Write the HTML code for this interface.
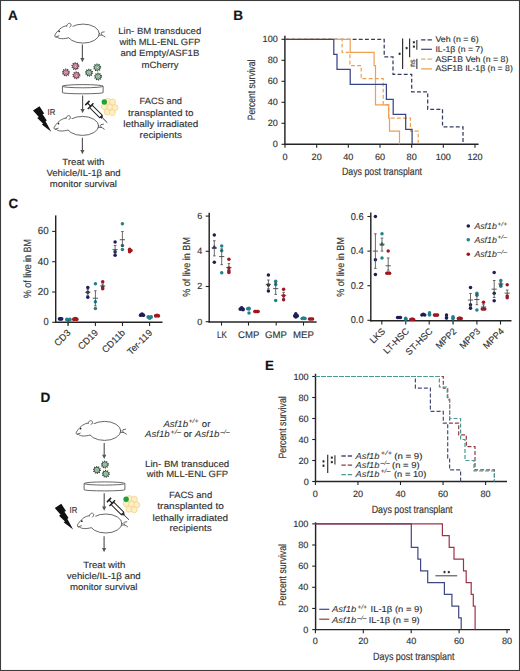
<!DOCTYPE html>
<html><head><meta charset="utf-8"><title>Figure</title>
<style>
html,body{margin:0;padding:0;background:#fff;}
body{width:520px;height:671px;overflow:hidden;}
svg{display:block;}
text{stroke:#333;stroke-width:0.15px;}
text[font-style="italic"]{stroke-width:0.06px;}

</style></head><body>
<svg width="520" height="671" viewBox="0 0 520 671" font-family="Liberation Sans, sans-serif" fill="#333" text-rendering="geometricPrecision">
<rect x="0" y="0" width="520" height="671" fill="#fff"/>
<text x="8.00" y="19.60" font-size="13.6" fill="#111" font-weight="bold">A</text>
<g transform="translate(83.20 33.60) scale(1.0)" fill="none" stroke="#4d4d4d" stroke-width="0.85" stroke-linecap="round" stroke-linejoin="round">
<ellipse cx="0" cy="0" rx="16.2" ry="9.5" fill="#fff"/>
<path d="M-12.6,-7.9 C-17,-8.8 -21.6,-6.6 -24.6,-3.4 C-26.8,-1.1 -28.7,1.2 -28.4,2.5 C-28.1,3.6 -26.9,3.8 -26.0,3.5 C-24.5,5.4 -19.5,5.6 -14.6,4.2 L-8,2 L-8,-6 Z" fill="#fff" stroke="none"/>
<path d="M-12.6,-7.9 C-17,-8.8 -21.6,-6.6 -24.6,-3.4 C-26.8,-1.1 -28.7,1.2 -28.4,2.5 C-28.1,3.6 -26.9,3.8 -26.0,3.5 C-24.5,5.4 -19.5,5.6 -14.6,4.2"/>
<path d="M-27.2,3.2 L-24.4,2.3"/>
<path d="M-16.5,-7.4 C-16,-10.4 -13.5,-11 -12.4,-9.6 C-11.7,-8.6 -12.3,-7.4 -13.4,-6.4" fill="#fff"/>
<circle cx="-24" cy="-2.3" r="0.85" fill="#222" stroke="none"/>
<path d="M16.1,1.6 L18.7,1.4 C18.1,0.6 17.9,-0.8 18.5,-1.3 L21,-1.7 M18.7,1.4 C19.8,1.8 20.8,2.6 21.8,3.3"/>
</g>
<line x1="82.4" y1="44.6" x2="82.4" y2="58.7" stroke="#555" stroke-width="1.15"/>
<path d="M80.30000000000001,58.0 L84.5,58.0 L82.4,62.2 Z" fill="#555"/>
<circle cx="75.4" cy="66.2" r="3.35" fill="none" stroke="#4a2a34" stroke-width="1.3" stroke-dasharray="0.95 1.15"/>
<circle cx="75.4" cy="66.2" r="2.75" fill="#e596b0" stroke="#4a2a34" stroke-width="0.8"/>
<circle cx="75.5" cy="66.3" r="1.0" fill="#f6d3df" stroke="#4a2a34" stroke-width="0.35"/>
<circle cx="65.9" cy="72.5" r="3.35" fill="none" stroke="#4a2a34" stroke-width="1.3" stroke-dasharray="0.95 1.15"/>
<circle cx="65.9" cy="72.5" r="2.75" fill="#e596b0" stroke="#4a2a34" stroke-width="0.8"/>
<circle cx="66.0" cy="72.6" r="1.0" fill="#f6d3df" stroke="#4a2a34" stroke-width="0.35"/>
<circle cx="76.4" cy="75.3" r="3.35" fill="none" stroke="#4a2a34" stroke-width="1.3" stroke-dasharray="0.95 1.15"/>
<circle cx="76.4" cy="75.3" r="2.75" fill="#e596b0" stroke="#4a2a34" stroke-width="0.8"/>
<circle cx="76.5" cy="75.39999999999999" r="1.0" fill="#f6d3df" stroke="#4a2a34" stroke-width="0.35"/>
<circle cx="97.2" cy="67.5" r="3.35" fill="none" stroke="#2a3a2f" stroke-width="1.3" stroke-dasharray="0.95 1.15"/>
<circle cx="97.2" cy="67.5" r="2.75" fill="#9fd1ad" stroke="#2a3a2f" stroke-width="0.8"/>
<circle cx="97.3" cy="67.6" r="1.0" fill="#dff0e4" stroke="#2a3a2f" stroke-width="0.35"/>
<circle cx="89.0" cy="72.7" r="3.35" fill="none" stroke="#2a3a2f" stroke-width="1.3" stroke-dasharray="0.95 1.15"/>
<circle cx="89.0" cy="72.7" r="2.75" fill="#9fd1ad" stroke="#2a3a2f" stroke-width="0.8"/>
<circle cx="89.1" cy="72.8" r="1.0" fill="#dff0e4" stroke="#2a3a2f" stroke-width="0.35"/>
<circle cx="98.1" cy="76.6" r="3.35" fill="none" stroke="#2a3a2f" stroke-width="1.3" stroke-dasharray="0.95 1.15"/>
<circle cx="98.1" cy="76.6" r="2.75" fill="#9fd1ad" stroke="#2a3a2f" stroke-width="0.8"/>
<circle cx="98.19999999999999" cy="76.69999999999999" r="1.0" fill="#dff0e4" stroke="#2a3a2f" stroke-width="0.35"/>
<path d="M62.4,86.19999999999999 V92.6 A20.349999999999998,1.2 0 0 0 103.1,92.6 V86.19999999999999" fill="#fff" stroke="#4d4d4d" stroke-width="0.85"/>
<ellipse cx="82.75" cy="86.19999999999999" rx="20.349999999999998" ry="1.6" fill="#fff" stroke="#4d4d4d" stroke-width="0.85"/>
<line x1="82.6" y1="95.5" x2="82.6" y2="109.7" stroke="#555" stroke-width="1.15"/>
<path d="M80.5,109.0 L84.69999999999999,109.0 L82.6,113.2 Z" fill="#555"/>
<polygon points="39.50,106.20 44.20,113.50 42.60,114.20 46.80,120.40 45.50,121.20 51.30,131.80 41.80,124.60 43.20,123.80 37.20,118.10 38.80,117.10 33.00,110.40" fill="#111"/>
<text x="47.60" y="115.00" font-size="8.6" textLength="7.70" lengthAdjust="spacingAndGlyphs">IR</text>
<g transform="translate(87.40 103.00) rotate(44.7)" stroke="#222" fill="none" stroke-linecap="butt">
<line x1="0" y1="-3" x2="0" y2="3" stroke-width="1.5"/>
<line x1="0" y1="0" x2="4.5" y2="0" stroke-width="1.2"/>
<line x1="4.5" y1="-4" x2="4.5" y2="4" stroke-width="1.4"/>
<rect x="5" y="-1.8" width="14.2" height="3.6" fill="#fff" stroke-width="0.95"/>
<rect x="19" y="-1" width="2" height="2" fill="#222" stroke-width="0.5"/>
<line x1="21" y1="0" x2="28" y2="0" stroke-width="0.9"/>
</g>
<circle cx="107.60" cy="101.40" r="3.0" fill="#fdefc4" stroke="#f3d088" stroke-width="0.75"/>
<circle cx="112.60" cy="102.00" r="3.0" fill="#fdefc4" stroke="#f3d088" stroke-width="0.75"/>
<circle cx="104.40" cy="106.60" r="3.0" fill="#fdefc4" stroke="#f3d088" stroke-width="0.75"/>
<circle cx="109.80" cy="107.00" r="3.0" fill="#fdefc4" stroke="#f3d088" stroke-width="0.75"/>
<circle cx="115.00" cy="107.60" r="3.0" fill="#fdefc4" stroke="#f3d088" stroke-width="0.75"/>
<circle cx="107.20" cy="112.00" r="3.0" fill="#fdefc4" stroke="#f3d088" stroke-width="0.75"/>
<circle cx="112.40" cy="112.60" r="3.0" fill="#fdefc4" stroke="#f3d088" stroke-width="0.75"/>
<circle cx="104.30" cy="102.00" r="2.7" fill="#1aa33a"/>
<g transform="translate(82.50 125.90) scale(1.0)" fill="none" stroke="#4d4d4d" stroke-width="0.85" stroke-linecap="round" stroke-linejoin="round">
<ellipse cx="0" cy="0" rx="16.2" ry="9.5" fill="#fff"/>
<path d="M-12.6,-7.9 C-17,-8.8 -21.6,-6.6 -24.6,-3.4 C-26.8,-1.1 -28.7,1.2 -28.4,2.5 C-28.1,3.6 -26.9,3.8 -26.0,3.5 C-24.5,5.4 -19.5,5.6 -14.6,4.2 L-8,2 L-8,-6 Z" fill="#fff" stroke="none"/>
<path d="M-12.6,-7.9 C-17,-8.8 -21.6,-6.6 -24.6,-3.4 C-26.8,-1.1 -28.7,1.2 -28.4,2.5 C-28.1,3.6 -26.9,3.8 -26.0,3.5 C-24.5,5.4 -19.5,5.6 -14.6,4.2"/>
<path d="M-27.2,3.2 L-24.4,2.3"/>
<path d="M-16.5,-7.4 C-16,-10.4 -13.5,-11 -12.4,-9.6 C-11.7,-8.6 -12.3,-7.4 -13.4,-6.4" fill="#fff"/>
<circle cx="-24" cy="-2.3" r="0.85" fill="#222" stroke="none"/>
<path d="M16.1,1.6 L18.7,1.4 C18.1,0.6 17.9,-0.8 18.5,-1.3 L21,-1.7 M18.7,1.4 C19.8,1.8 20.8,2.6 21.8,3.3"/>
</g>
<line x1="82.4" y1="137.8" x2="82.4" y2="150.7" stroke="#555" stroke-width="1.15"/>
<path d="M80.30000000000001,150.0 L84.5,150.0 L82.4,154.2 Z" fill="#555"/>
<text x="118.30" y="33.60" font-size="9.15" textLength="82.90" lengthAdjust="spacingAndGlyphs">Lin- BM transduced</text>
<text x="119.40" y="44.60" font-size="9.15" textLength="80.80" lengthAdjust="spacingAndGlyphs">with MLL-ENL GFP</text>
<text x="120.40" y="56.30" font-size="9.15" textLength="78.90" lengthAdjust="spacingAndGlyphs">and Empty/ASF1B</text>
<text x="141.50" y="67.60" font-size="9.15" textLength="37.00" lengthAdjust="spacingAndGlyphs">mCherry</text>
<text x="139.60" y="103.80" font-size="9.15" textLength="42.40" lengthAdjust="spacingAndGlyphs">FACS and</text>
<text x="128.10" y="115.60" font-size="9.15" textLength="65.40" lengthAdjust="spacingAndGlyphs">transplanted to</text>
<text x="123.30" y="126.90" font-size="9.15" textLength="75.00" lengthAdjust="spacingAndGlyphs">lethally irradiated</text>
<text x="139.60" y="137.90" font-size="9.15" textLength="42.40" lengthAdjust="spacingAndGlyphs">recipients</text>
<text x="62.30" y="164.60" font-size="9.15" textLength="42.20" lengthAdjust="spacingAndGlyphs">Treat with</text>
<text x="46.40" y="175.80" font-size="9.15" textLength="74.30" lengthAdjust="spacingAndGlyphs">Vehicle/IL-1β and</text>
<text x="49.80" y="187.10" font-size="9.15" textLength="67.10" lengthAdjust="spacingAndGlyphs">monitor survival</text>
<text x="233.20" y="19.80" font-size="13.6" fill="#111" font-weight="bold">B</text>
<line x1="284.90" y1="35.80" x2="284.90" y2="145.00" stroke="#242424" stroke-width="1.45"/>
<line x1="284.40" y1="144.30" x2="478.60" y2="144.30" stroke="#242424" stroke-width="1.45"/>
<line x1="281.50" y1="144.30" x2="285.00" y2="144.30" stroke="#242424" stroke-width="1.1"/>
<text x="277.80" y="147.40" font-size="9.1" text-anchor="end">0</text>
<line x1="281.50" y1="123.30" x2="285.00" y2="123.30" stroke="#242424" stroke-width="1.1"/>
<text x="277.80" y="126.40" font-size="9.1" text-anchor="end">20</text>
<line x1="281.50" y1="102.30" x2="285.00" y2="102.30" stroke="#242424" stroke-width="1.1"/>
<text x="277.80" y="105.40" font-size="9.1" text-anchor="end">40</text>
<line x1="281.50" y1="81.30" x2="285.00" y2="81.30" stroke="#242424" stroke-width="1.1"/>
<text x="277.80" y="84.40" font-size="9.1" text-anchor="end">60</text>
<line x1="281.50" y1="60.30" x2="285.00" y2="60.30" stroke="#242424" stroke-width="1.1"/>
<text x="277.80" y="63.40" font-size="9.1" text-anchor="end">80</text>
<line x1="281.50" y1="39.30" x2="285.00" y2="39.30" stroke="#242424" stroke-width="1.1"/>
<text x="277.80" y="42.40" font-size="9.1" text-anchor="end">100</text>
<line x1="285.00" y1="144.30" x2="285.00" y2="147.80" stroke="#242424" stroke-width="1.1"/>
<text x="285.00" y="159.60" font-size="9.1" text-anchor="middle">0</text>
<line x1="316.67" y1="144.30" x2="316.67" y2="147.80" stroke="#242424" stroke-width="1.1"/>
<text x="316.67" y="159.60" font-size="9.1" text-anchor="middle">20</text>
<line x1="348.33" y1="144.30" x2="348.33" y2="147.80" stroke="#242424" stroke-width="1.1"/>
<text x="348.33" y="159.60" font-size="9.1" text-anchor="middle">40</text>
<line x1="380.00" y1="144.30" x2="380.00" y2="147.80" stroke="#242424" stroke-width="1.1"/>
<text x="380.00" y="159.60" font-size="9.1" text-anchor="middle">60</text>
<line x1="411.66" y1="144.30" x2="411.66" y2="147.80" stroke="#242424" stroke-width="1.1"/>
<text x="411.66" y="159.60" font-size="9.1" text-anchor="middle">80</text>
<line x1="443.33" y1="144.30" x2="443.33" y2="147.80" stroke="#242424" stroke-width="1.1"/>
<text x="443.33" y="159.60" font-size="9.1" text-anchor="middle">100</text>
<line x1="475.00" y1="144.30" x2="475.00" y2="147.80" stroke="#242424" stroke-width="1.1"/>
<text x="475.00" y="159.60" font-size="9.1" text-anchor="middle">120</text>
<text x="342.00" y="175.10" font-size="10.6" textLength="80.00" lengthAdjust="spacingAndGlyphs">Days post transplant</text>
<text x="254.90" y="89.90" font-size="10.6" text-anchor="middle" textLength="60.80" lengthAdjust="spacingAndGlyphs" transform="rotate(-90 254.90 89.90)">Percent survival</text>
<path d="M285.00,39.30 H384.20 V56.84 H393.00 V74.27 H411.70 V91.80 H427.70 V109.34 H442.50 V126.77 H463.00 V144.30" fill="none" stroke="#363c5e" stroke-width="1.25" stroke-dasharray="3.9 2.25"/>
<path d="M285.00,39.30 H342.10 V52.43 H349.90 V65.55 H361.20 V78.68 H383.20 V104.93 H388.70 V118.05 H410.40 V131.18 H418.20 V144.30" fill="none" stroke="#eda050" stroke-width="1.2" stroke-dasharray="3.9 2.25"/>
<path d="M285.00,39.30 H350.20 V52.43 H374.10 V65.55 H375.50 V104.93 H388.70 V118.05 H389.50 V131.18 H399.50 V144.30" fill="none" stroke="#eda050" stroke-width="1.2"/>
<path d="M285.00,39.30 H333.80 V54.31 H337.00 V69.33 H350.20 V84.34 H386.40 V99.26 H393.20 V114.27 H405.70 V129.29 H412.10 V144.30" fill="none" stroke="#3b4585" stroke-width="1.25"/>
<line x1="421.10" y1="39.80" x2="431.90" y2="39.80" stroke="#363c5e" stroke-width="1.3" stroke-dasharray="4.4 2"/>
<line x1="421.10" y1="49.30" x2="431.90" y2="49.30" stroke="#3b4585" stroke-width="1.2"/>
<line x1="421.10" y1="59.10" x2="431.90" y2="59.10" stroke="#dcae62" stroke-width="1.3" stroke-dasharray="4.4 2"/>
<line x1="421.10" y1="68.90" x2="431.90" y2="68.90" stroke="#eda050" stroke-width="1.3"/>
<text x="435.40" y="42.20" font-size="8.3" textLength="43.30" lengthAdjust="spacingAndGlyphs">Veh (n = 6)</text>
<text x="435.40" y="51.70" font-size="8.3" textLength="47.70" lengthAdjust="spacingAndGlyphs">IL-1β (n = 7)</text>
<text x="435.40" y="61.50" font-size="8.3" textLength="72.90" lengthAdjust="spacingAndGlyphs">ASF1B Veh (n = 8)</text>
<text x="435.40" y="71.30" font-size="8.3" textLength="77.40" lengthAdjust="spacingAndGlyphs">ASF1B IL-1β (n = 8)</text>
<line x1="402.60" y1="38.50" x2="402.60" y2="69.00" stroke="#333" stroke-width="1.2"/>
<line x1="409.60" y1="38.50" x2="409.60" y2="57.30" stroke="#333" stroke-width="1.2"/>
<line x1="416.80" y1="40.00" x2="416.80" y2="49.70" stroke="#666" stroke-width="1.5"/>
<line x1="416.80" y1="58.80" x2="416.80" y2="69.00" stroke="#666" stroke-width="1.5"/>
<path d="M399.60,52.55 L399.60,55.05 M400.68,53.17 L398.52,54.42 M400.68,54.42 L398.52,53.17 " stroke="#222" stroke-width="0.75" fill="none"/>
<circle cx="399.60" cy="53.80" r="0.69" fill="#222"/>
<path d="M406.60,46.85 L406.60,49.35 M407.68,47.48 L405.52,48.73 M407.68,48.73 L405.52,47.48 " stroke="#222" stroke-width="0.75" fill="none"/>
<circle cx="406.60" cy="48.10" r="0.69" fill="#222"/>
<path d="M413.90,41.05 L413.90,43.55 M414.98,41.67 L412.82,42.92 M414.98,42.92 L412.82,41.67 " stroke="#222" stroke-width="0.75" fill="none"/>
<circle cx="413.90" cy="42.30" r="0.69" fill="#222"/>
<path d="M413.90,45.35 L413.90,47.85 M414.98,45.98 L412.82,47.23 M414.98,47.23 L412.82,45.98 " stroke="#222" stroke-width="0.75" fill="none"/>
<circle cx="413.90" cy="46.60" r="0.69" fill="#222"/>
<text x="414.60" y="63.20" font-size="8.0" text-anchor="middle" textLength="7.60" lengthAdjust="spacingAndGlyphs" transform="rotate(-90 414.60 63.20)">ns</text>
<text x="8.60" y="208.00" font-size="13.4" fill="#111" font-weight="bold">C</text>
<line x1="55.70" y1="215.40" x2="55.70" y2="323.00" stroke="#242424" stroke-width="1.45"/>
<line x1="55.00" y1="322.30" x2="162.50" y2="322.30" stroke="#242424" stroke-width="1.45"/>
<line x1="52.20" y1="322.30" x2="55.70" y2="322.30" stroke="#242424" stroke-width="1.1"/>
<text x="48.60" y="325.10" font-size="10.2" text-anchor="end" textLength="5.20" lengthAdjust="spacingAndGlyphs">0</text>
<line x1="52.20" y1="292.00" x2="55.70" y2="292.00" stroke="#242424" stroke-width="1.1"/>
<text x="48.60" y="294.80" font-size="10.2" text-anchor="end" textLength="10.90" lengthAdjust="spacingAndGlyphs">20</text>
<line x1="52.20" y1="261.70" x2="55.70" y2="261.70" stroke="#242424" stroke-width="1.1"/>
<text x="48.60" y="264.50" font-size="10.2" text-anchor="end" textLength="10.90" lengthAdjust="spacingAndGlyphs">40</text>
<line x1="52.20" y1="231.40" x2="55.70" y2="231.40" stroke="#242424" stroke-width="1.1"/>
<text x="48.60" y="234.20" font-size="10.2" text-anchor="end" textLength="10.90" lengthAdjust="spacingAndGlyphs">60</text>
<line x1="68.00" y1="322.30" x2="68.00" y2="326.00" stroke="#242424" stroke-width="1.1"/>
<text x="71.30" y="333.40" font-size="9.4" text-anchor="end" transform="rotate(-45 71.30 333.40)">CD3</text>
<line x1="95.40" y1="322.30" x2="95.40" y2="326.00" stroke="#242424" stroke-width="1.1"/>
<text x="98.70" y="333.40" font-size="9.4" text-anchor="end" transform="rotate(-45 98.70 333.40)">CD19</text>
<line x1="122.50" y1="322.30" x2="122.50" y2="326.00" stroke="#242424" stroke-width="1.1"/>
<text x="125.80" y="333.40" font-size="9.4" text-anchor="end" transform="rotate(-45 125.80 333.40)">CD11b</text>
<line x1="149.60" y1="322.30" x2="149.60" y2="326.00" stroke="#242424" stroke-width="1.1"/>
<text x="152.90" y="333.40" font-size="9.4" text-anchor="end" transform="rotate(-45 152.90 333.40)">Ter-119</text>
<text x="31.40" y="268.60" font-size="10.6" text-anchor="middle" textLength="59.00" lengthAdjust="spacingAndGlyphs" transform="rotate(-90 31.40 268.60)">% of live in BM</text>
<circle cx="59.60" cy="318.82" r="1.9" fill="#1d1d58"/>
<circle cx="60.60" cy="318.82" r="1.9" fill="#1d1d58"/>
<circle cx="61.60" cy="318.82" r="1.9" fill="#1d1d58"/>
<circle cx="66.90" cy="319.42" r="1.9" fill="#20828a"/>
<circle cx="68.40" cy="320.22" r="1.9" fill="#20828a"/>
<circle cx="69.90" cy="319.42" r="1.9" fill="#20828a"/>
<circle cx="73.90" cy="319.27" r="1.9" fill="#a01722"/>
<circle cx="75.30" cy="318.67" r="1.9" fill="#a01722"/>
<circle cx="76.70" cy="319.27" r="1.9" fill="#a01722"/>
<line x1="68.30" y1="320.03" x2="68.30" y2="325.33" stroke="#444" stroke-width="0.8"/>
<circle cx="87.80" cy="287.46" r="1.75" fill="#1d1d58"/>
<circle cx="87.80" cy="292.30" r="1.75" fill="#1d1d58"/>
<circle cx="87.80" cy="297.15" r="1.75" fill="#1d1d58"/>
<line x1="87.80" y1="289.27" x2="87.80" y2="295.33" stroke="#444" stroke-width="0.8"/>
<line x1="85.20" y1="292.30" x2="90.40" y2="292.30" stroke="#444" stroke-width="0.9"/>
<line x1="86.50" y1="289.27" x2="89.10" y2="289.27" stroke="#444" stroke-width="0.8"/>
<line x1="86.50" y1="295.33" x2="89.10" y2="295.33" stroke="#444" stroke-width="0.8"/>
<circle cx="95.40" cy="283.82" r="1.75" fill="#20828a"/>
<circle cx="95.40" cy="301.85" r="1.75" fill="#20828a"/>
<circle cx="95.40" cy="308.51" r="1.75" fill="#20828a"/>
<line x1="95.40" y1="290.79" x2="95.40" y2="305.79" stroke="#444" stroke-width="0.8"/>
<line x1="92.80" y1="298.21" x2="98.00" y2="298.21" stroke="#444" stroke-width="0.9"/>
<line x1="94.10" y1="290.79" x2="96.70" y2="290.79" stroke="#444" stroke-width="0.8"/>
<line x1="94.10" y1="305.79" x2="96.70" y2="305.79" stroke="#444" stroke-width="0.8"/>
<circle cx="102.70" cy="281.85" r="1.75" fill="#a01722"/>
<circle cx="102.70" cy="287.00" r="1.75" fill="#a01722"/>
<circle cx="102.70" cy="288.67" r="1.75" fill="#a01722"/>
<line x1="102.70" y1="283.97" x2="102.70" y2="287.91" stroke="#444" stroke-width="0.8"/>
<line x1="100.10" y1="285.94" x2="105.30" y2="285.94" stroke="#444" stroke-width="0.9"/>
<line x1="101.40" y1="283.97" x2="104.00" y2="283.97" stroke="#444" stroke-width="0.8"/>
<line x1="101.40" y1="287.91" x2="104.00" y2="287.91" stroke="#444" stroke-width="0.8"/>
<circle cx="115.10" cy="242.00" r="1.75" fill="#1d1d58"/>
<circle cx="115.10" cy="251.70" r="1.75" fill="#1d1d58"/>
<circle cx="115.10" cy="255.34" r="1.75" fill="#1d1d58"/>
<line x1="115.10" y1="245.49" x2="115.10" y2="253.82" stroke="#444" stroke-width="0.8"/>
<line x1="112.50" y1="249.58" x2="117.70" y2="249.58" stroke="#444" stroke-width="0.9"/>
<line x1="113.80" y1="245.49" x2="116.40" y2="245.49" stroke="#444" stroke-width="0.8"/>
<line x1="113.80" y1="253.82" x2="116.40" y2="253.82" stroke="#444" stroke-width="0.8"/>
<circle cx="122.40" cy="223.83" r="1.75" fill="#20828a"/>
<circle cx="122.40" cy="245.49" r="1.75" fill="#20828a"/>
<circle cx="122.40" cy="249.58" r="1.75" fill="#20828a"/>
<line x1="122.40" y1="231.55" x2="122.40" y2="246.25" stroke="#444" stroke-width="0.8"/>
<line x1="119.80" y1="239.73" x2="125.00" y2="239.73" stroke="#444" stroke-width="0.9"/>
<line x1="121.10" y1="231.55" x2="123.70" y2="231.55" stroke="#444" stroke-width="0.8"/>
<line x1="121.10" y1="246.25" x2="123.70" y2="246.25" stroke="#444" stroke-width="0.8"/>
<circle cx="129.60" cy="249.13" r="1.75" fill="#a01722"/>
<circle cx="129.60" cy="250.64" r="1.75" fill="#a01722"/>
<circle cx="129.60" cy="251.70" r="1.75" fill="#a01722"/>
<circle cx="131.00" cy="250.49" r="1.75" fill="#a01722"/>
<circle cx="140.70" cy="315.18" r="1.9" fill="#1d1d58"/>
<circle cx="142.00" cy="314.18" r="1.9" fill="#1d1d58"/>
<circle cx="143.30" cy="315.18" r="1.9" fill="#1d1d58"/>
<circle cx="148.30" cy="317.00" r="1.9" fill="#20828a"/>
<circle cx="149.70" cy="318.00" r="1.9" fill="#20828a"/>
<circle cx="151.10" cy="317.00" r="1.9" fill="#20828a"/>
<circle cx="155.70" cy="315.79" r="1.9" fill="#a01722"/>
<circle cx="157.00" cy="315.29" r="1.9" fill="#a01722"/>
<circle cx="158.30" cy="315.79" r="1.9" fill="#a01722"/>
<line x1="209.20" y1="212.70" x2="209.20" y2="322.60" stroke="#242424" stroke-width="1.45"/>
<line x1="208.60" y1="322.00" x2="316.60" y2="322.00" stroke="#242424" stroke-width="1.45"/>
<line x1="205.70" y1="321.70" x2="209.20" y2="321.70" stroke="#242424" stroke-width="1.1"/>
<text x="202.20" y="324.60" font-size="9.0" text-anchor="end">0</text>
<line x1="205.70" y1="286.50" x2="209.20" y2="286.50" stroke="#242424" stroke-width="1.1"/>
<text x="202.20" y="289.40" font-size="9.0" text-anchor="end">2</text>
<line x1="205.70" y1="251.30" x2="209.20" y2="251.30" stroke="#242424" stroke-width="1.1"/>
<text x="202.20" y="254.20" font-size="9.0" text-anchor="end">4</text>
<line x1="205.70" y1="216.10" x2="209.20" y2="216.10" stroke="#242424" stroke-width="1.1"/>
<text x="202.20" y="219.00" font-size="9.0" text-anchor="end">6</text>
<line x1="221.50" y1="322.00" x2="221.50" y2="325.60" stroke="#242424" stroke-width="1.1"/>
<text x="222.00" y="337.80" font-size="9.6" text-anchor="middle" textLength="9.90" lengthAdjust="spacingAndGlyphs">LK</text>
<line x1="248.50" y1="322.00" x2="248.50" y2="325.60" stroke="#242424" stroke-width="1.1"/>
<text x="248.75" y="337.80" font-size="9.6" text-anchor="middle" textLength="21.30" lengthAdjust="spacingAndGlyphs">CMP</text>
<line x1="276.20" y1="322.00" x2="276.20" y2="325.60" stroke="#242424" stroke-width="1.1"/>
<text x="276.00" y="337.80" font-size="9.6" text-anchor="middle" textLength="21.90" lengthAdjust="spacingAndGlyphs">GMP</text>
<line x1="303.50" y1="322.00" x2="303.50" y2="325.60" stroke="#242424" stroke-width="1.1"/>
<text x="303.50" y="337.80" font-size="9.6" text-anchor="middle" textLength="20.90" lengthAdjust="spacingAndGlyphs">MEP</text>
<text x="189.90" y="266.90" font-size="10.3" text-anchor="middle" textLength="59.60" lengthAdjust="spacingAndGlyphs" transform="rotate(-90 189.90 266.90)">% of live in BM</text>
<circle cx="214.30" cy="234.93" r="1.75" fill="#1d1d58"/>
<circle cx="214.30" cy="262.21" r="1.75" fill="#1d1d58"/>
<path d="M214.3,244.65 L216.7,248.85 L211.9,248.85 Z" fill="#1d1d58"/>
<line x1="214.30" y1="240.74" x2="214.30" y2="255.88" stroke="#444" stroke-width="0.8"/>
<line x1="211.70" y1="247.78" x2="216.90" y2="247.78" stroke="#444" stroke-width="0.9"/>
<line x1="213.00" y1="240.74" x2="215.60" y2="240.74" stroke="#444" stroke-width="0.8"/>
<line x1="213.00" y1="255.88" x2="215.60" y2="255.88" stroke="#444" stroke-width="0.8"/>
<circle cx="221.70" cy="246.02" r="1.75" fill="#20828a"/>
<circle cx="221.70" cy="250.77" r="1.75" fill="#20828a"/>
<circle cx="221.70" cy="272.77" r="1.75" fill="#20828a"/>
<line x1="221.70" y1="248.84" x2="221.70" y2="264.68" stroke="#444" stroke-width="0.8"/>
<line x1="219.10" y1="256.58" x2="224.30" y2="256.58" stroke="#444" stroke-width="0.9"/>
<line x1="220.40" y1="248.84" x2="223.00" y2="248.84" stroke="#444" stroke-width="0.8"/>
<line x1="220.40" y1="264.68" x2="223.00" y2="264.68" stroke="#444" stroke-width="0.8"/>
<circle cx="228.90" cy="259.22" r="1.75" fill="#a01722"/>
<circle cx="228.90" cy="268.02" r="1.75" fill="#a01722"/>
<circle cx="228.90" cy="270.66" r="1.75" fill="#a01722"/>
<circle cx="228.90" cy="272.42" r="1.75" fill="#a01722"/>
<line x1="228.90" y1="263.62" x2="228.90" y2="271.36" stroke="#444" stroke-width="0.8"/>
<line x1="226.30" y1="267.49" x2="231.50" y2="267.49" stroke="#444" stroke-width="0.9"/>
<line x1="227.60" y1="263.62" x2="230.20" y2="263.62" stroke="#444" stroke-width="0.8"/>
<line x1="227.60" y1="271.36" x2="230.20" y2="271.36" stroke="#444" stroke-width="0.8"/>
<circle cx="240.30" cy="309.03" r="1.9" fill="#1d1d58"/>
<circle cx="241.60" cy="307.83" r="1.9" fill="#1d1d58"/>
<circle cx="242.90" cy="309.03" r="1.9" fill="#1d1d58"/>
<circle cx="249.00" cy="308.32" r="1.75" fill="#20828a"/>
<circle cx="249.00" cy="309.03" r="1.75" fill="#20828a"/>
<circle cx="249.00" cy="312.90" r="1.75" fill="#20828a"/>
<circle cx="247.60" cy="308.68" r="1.75" fill="#20828a"/>
<circle cx="255.00" cy="311.49" r="1.8" fill="#a01722"/>
<circle cx="256.40" cy="311.49" r="1.8" fill="#a01722"/>
<circle cx="257.80" cy="311.49" r="1.8" fill="#a01722"/>
<circle cx="243.00" cy="309.73" r="1.75" fill="#1d1d58"/>
<circle cx="255.20" cy="311.49" r="1.75" fill="#a01722"/>
<circle cx="258.00" cy="311.49" r="1.75" fill="#a01722"/>
<circle cx="268.40" cy="275.06" r="1.75" fill="#1d1d58"/>
<circle cx="268.40" cy="285.09" r="1.75" fill="#1d1d58"/>
<circle cx="268.40" cy="290.90" r="1.75" fill="#1d1d58"/>
<line x1="268.40" y1="279.99" x2="268.40" y2="288.79" stroke="#444" stroke-width="0.8"/>
<line x1="265.80" y1="284.39" x2="271.00" y2="284.39" stroke="#444" stroke-width="0.9"/>
<line x1="267.10" y1="279.99" x2="269.70" y2="279.99" stroke="#444" stroke-width="0.8"/>
<line x1="267.10" y1="288.79" x2="269.70" y2="288.79" stroke="#444" stroke-width="0.8"/>
<circle cx="275.70" cy="281.22" r="1.75" fill="#20828a"/>
<circle cx="275.70" cy="284.39" r="1.75" fill="#20828a"/>
<circle cx="275.70" cy="300.58" r="1.75" fill="#20828a"/>
<line x1="275.70" y1="282.80" x2="275.70" y2="294.42" stroke="#444" stroke-width="0.8"/>
<line x1="273.10" y1="288.61" x2="278.30" y2="288.61" stroke="#444" stroke-width="0.9"/>
<line x1="274.40" y1="282.80" x2="277.00" y2="282.80" stroke="#444" stroke-width="0.8"/>
<line x1="274.40" y1="294.42" x2="277.00" y2="294.42" stroke="#444" stroke-width="0.8"/>
<circle cx="283.60" cy="289.14" r="1.75" fill="#a01722"/>
<circle cx="283.60" cy="295.83" r="1.75" fill="#a01722"/>
<circle cx="283.60" cy="299.70" r="1.75" fill="#a01722"/>
<line x1="283.60" y1="292.31" x2="283.60" y2="298.29" stroke="#444" stroke-width="0.8"/>
<line x1="281.00" y1="295.30" x2="286.20" y2="295.30" stroke="#444" stroke-width="0.9"/>
<line x1="282.30" y1="292.31" x2="284.90" y2="292.31" stroke="#444" stroke-width="0.8"/>
<line x1="282.30" y1="298.29" x2="284.90" y2="298.29" stroke="#444" stroke-width="0.8"/>
<circle cx="295.80" cy="313.78" r="1.75" fill="#1d1d58"/>
<circle cx="295.80" cy="315.54" r="1.75" fill="#1d1d58"/>
<circle cx="295.80" cy="316.95" r="1.75" fill="#1d1d58"/>
<circle cx="294.70" cy="315.89" r="1.8" fill="#1d1d58"/>
<circle cx="296.00" cy="315.89" r="1.8" fill="#1d1d58"/>
<circle cx="297.30" cy="315.89" r="1.8" fill="#1d1d58"/>
<circle cx="302.20" cy="318.53" r="1.8" fill="#20828a"/>
<circle cx="303.60" cy="318.03" r="1.8" fill="#20828a"/>
<circle cx="305.00" cy="318.53" r="1.8" fill="#20828a"/>
<circle cx="309.50" cy="319.06" r="1.8" fill="#a01722"/>
<circle cx="311.00" cy="319.06" r="1.8" fill="#a01722"/>
<circle cx="312.50" cy="319.06" r="1.8" fill="#a01722"/>
<line x1="370.80" y1="212.40" x2="370.80" y2="321.50" stroke="#242424" stroke-width="1.45"/>
<line x1="370.20" y1="320.80" x2="511.50" y2="320.80" stroke="#242424" stroke-width="1.45"/>
<line x1="367.40" y1="320.30" x2="370.80" y2="320.30" stroke="#242424" stroke-width="1.1"/>
<text x="363.60" y="323.40" font-size="9.9" text-anchor="end" textLength="12.90" lengthAdjust="spacingAndGlyphs">0.0</text>
<line x1="367.40" y1="285.70" x2="370.80" y2="285.70" stroke="#242424" stroke-width="1.1"/>
<text x="363.60" y="288.80" font-size="9.9" text-anchor="end" textLength="12.90" lengthAdjust="spacingAndGlyphs">0.2</text>
<line x1="367.40" y1="251.10" x2="370.80" y2="251.10" stroke="#242424" stroke-width="1.1"/>
<text x="363.60" y="254.20" font-size="9.9" text-anchor="end" textLength="12.90" lengthAdjust="spacingAndGlyphs">0.4</text>
<line x1="367.40" y1="216.50" x2="370.80" y2="216.50" stroke="#242424" stroke-width="1.1"/>
<text x="363.60" y="219.60" font-size="9.9" text-anchor="end" textLength="12.90" lengthAdjust="spacingAndGlyphs">0.6</text>
<line x1="381.80" y1="320.80" x2="381.80" y2="324.60" stroke="#242424" stroke-width="1.1"/>
<text x="385.80" y="331.80" font-size="9.2" text-anchor="end" transform="rotate(-45 385.80 331.80)">LKS</text>
<line x1="405.70" y1="320.80" x2="405.70" y2="324.60" stroke="#242424" stroke-width="1.1"/>
<text x="409.70" y="331.80" font-size="9.2" text-anchor="end" transform="rotate(-45 409.70 331.80)">LT-HSC</text>
<line x1="429.20" y1="320.80" x2="429.20" y2="324.60" stroke="#242424" stroke-width="1.1"/>
<text x="433.20" y="331.80" font-size="9.2" text-anchor="end" transform="rotate(-45 433.20 331.80)">ST-HSC</text>
<line x1="453.10" y1="320.80" x2="453.10" y2="324.60" stroke="#242424" stroke-width="1.1"/>
<text x="457.10" y="331.80" font-size="9.2" text-anchor="end" transform="rotate(-45 457.10 331.80)">MPP2</text>
<line x1="476.90" y1="320.80" x2="476.90" y2="324.60" stroke="#242424" stroke-width="1.1"/>
<text x="480.90" y="331.80" font-size="9.2" text-anchor="end" transform="rotate(-45 480.90 331.80)">MPP3</text>
<line x1="500.50" y1="320.80" x2="500.50" y2="324.60" stroke="#242424" stroke-width="1.1"/>
<text x="504.50" y="331.80" font-size="9.2" text-anchor="end" transform="rotate(-45 504.50 331.80)">MPP4</text>
<text x="343.90" y="266.90" font-size="10.3" text-anchor="middle" textLength="59.60" lengthAdjust="spacingAndGlyphs" transform="rotate(-90 343.90 266.90)">% of live in BM</text>
<circle cx="375.40" cy="216.50" r="1.75" fill="#1d1d58"/>
<circle cx="375.40" cy="259.75" r="1.75" fill="#1d1d58"/>
<circle cx="375.40" cy="274.46" r="1.75" fill="#1d1d58"/>
<line x1="375.40" y1="233.80" x2="375.40" y2="268.40" stroke="#444" stroke-width="0.8"/>
<line x1="372.80" y1="251.10" x2="378.00" y2="251.10" stroke="#444" stroke-width="0.9"/>
<line x1="374.10" y1="233.80" x2="376.70" y2="233.80" stroke="#444" stroke-width="0.8"/>
<line x1="374.10" y1="268.40" x2="376.70" y2="268.40" stroke="#444" stroke-width="0.8"/>
<circle cx="382.00" cy="233.80" r="1.75" fill="#20828a"/>
<circle cx="382.00" cy="258.02" r="1.75" fill="#20828a"/>
<path d="M382.0,241.58 L384.4,245.78 L379.6,245.78 Z" fill="#20828a"/>
<line x1="382.00" y1="238.12" x2="382.00" y2="251.10" stroke="#444" stroke-width="0.8"/>
<line x1="379.40" y1="244.18" x2="384.60" y2="244.18" stroke="#444" stroke-width="0.9"/>
<line x1="380.70" y1="238.12" x2="383.30" y2="238.12" stroke="#444" stroke-width="0.8"/>
<line x1="380.70" y1="251.10" x2="383.30" y2="251.10" stroke="#444" stroke-width="0.8"/>
<circle cx="388.20" cy="251.10" r="1.75" fill="#a01722"/>
<circle cx="388.20" cy="273.07" r="1.75" fill="#a01722"/>
<circle cx="386.80" cy="273.24" r="1.75" fill="#a01722"/>
<circle cx="389.60" cy="273.24" r="1.75" fill="#a01722"/>
<line x1="388.20" y1="258.02" x2="388.20" y2="270.13" stroke="#444" stroke-width="0.8"/>
<line x1="385.60" y1="265.81" x2="390.80" y2="265.81" stroke="#444" stroke-width="0.9"/>
<line x1="386.90" y1="258.02" x2="389.50" y2="258.02" stroke="#444" stroke-width="0.8"/>
<line x1="386.90" y1="270.13" x2="389.50" y2="270.13" stroke="#444" stroke-width="0.8"/>
<circle cx="397.60" cy="317.53" r="1.8" fill="#1d1d58"/>
<circle cx="399.00" cy="317.53" r="1.8" fill="#1d1d58"/>
<circle cx="400.40" cy="317.53" r="1.8" fill="#1d1d58"/>
<circle cx="405.70" cy="318.22" r="1.75" fill="#20828a"/>
<circle cx="405.70" cy="318.92" r="1.75" fill="#20828a"/>
<circle cx="405.70" cy="319.26" r="1.75" fill="#20828a"/>
<line x1="405.70" y1="318.57" x2="405.70" y2="323.76" stroke="#2b6f80" stroke-width="0.9"/>
<circle cx="410.80" cy="319.44" r="1.8" fill="#a01722"/>
<circle cx="412.20" cy="318.94" r="1.8" fill="#a01722"/>
<circle cx="413.60" cy="319.44" r="1.8" fill="#a01722"/>
<circle cx="421.90" cy="314.94" r="1.8" fill="#1d1d58"/>
<circle cx="423.30" cy="314.34" r="1.8" fill="#1d1d58"/>
<circle cx="424.70" cy="314.94" r="1.8" fill="#1d1d58"/>
<circle cx="429.50" cy="312.86" r="1.75" fill="#20828a"/>
<circle cx="429.50" cy="314.25" r="1.75" fill="#20828a"/>
<circle cx="429.50" cy="315.11" r="1.75" fill="#20828a"/>
<circle cx="434.50" cy="315.11" r="1.8" fill="#a01722"/>
<circle cx="436.00" cy="315.11" r="1.8" fill="#a01722"/>
<circle cx="437.50" cy="315.11" r="1.8" fill="#a01722"/>
<circle cx="446.50" cy="314.94" r="1.75" fill="#1d1d58"/>
<circle cx="446.50" cy="318.05" r="1.75" fill="#1d1d58"/>
<circle cx="446.50" cy="317.70" r="1.75" fill="#1d1d58"/>
<circle cx="453.00" cy="316.84" r="1.75" fill="#20828a"/>
<circle cx="453.00" cy="317.88" r="1.75" fill="#20828a"/>
<circle cx="453.00" cy="318.57" r="1.75" fill="#20828a"/>
<line x1="453.00" y1="318.57" x2="453.00" y2="323.76" stroke="#2b6f80" stroke-width="0.9"/>
<circle cx="458.40" cy="318.57" r="1.8" fill="#a01722"/>
<circle cx="459.80" cy="318.07" r="1.8" fill="#a01722"/>
<circle cx="461.20" cy="318.57" r="1.8" fill="#a01722"/>
<circle cx="470.50" cy="287.43" r="1.75" fill="#1d1d58"/>
<circle cx="470.50" cy="304.73" r="1.75" fill="#1d1d58"/>
<circle cx="470.50" cy="308.19" r="1.75" fill="#1d1d58"/>
<line x1="470.50" y1="293.49" x2="470.50" y2="306.29" stroke="#444" stroke-width="0.8"/>
<line x1="467.90" y1="300.06" x2="473.10" y2="300.06" stroke="#444" stroke-width="0.9"/>
<line x1="469.20" y1="293.49" x2="471.80" y2="293.49" stroke="#444" stroke-width="0.8"/>
<line x1="469.20" y1="306.29" x2="471.80" y2="306.29" stroke="#444" stroke-width="0.8"/>
<circle cx="476.90" cy="293.14" r="1.75" fill="#20828a"/>
<circle cx="476.90" cy="295.22" r="1.75" fill="#20828a"/>
<circle cx="476.90" cy="309.92" r="1.75" fill="#20828a"/>
<line x1="476.90" y1="294.35" x2="476.90" y2="304.73" stroke="#444" stroke-width="0.8"/>
<line x1="474.30" y1="299.54" x2="479.50" y2="299.54" stroke="#444" stroke-width="0.9"/>
<line x1="475.60" y1="294.35" x2="478.20" y2="294.35" stroke="#444" stroke-width="0.8"/>
<line x1="475.60" y1="304.73" x2="478.20" y2="304.73" stroke="#444" stroke-width="0.8"/>
<circle cx="483.50" cy="302.13" r="1.75" fill="#a01722"/>
<circle cx="483.50" cy="308.88" r="1.75" fill="#a01722"/>
<circle cx="482.30" cy="308.88" r="1.75" fill="#a01722"/>
<circle cx="484.80" cy="308.88" r="1.75" fill="#a01722"/>
<line x1="483.50" y1="304.73" x2="483.50" y2="308.88" stroke="#444" stroke-width="0.8"/>
<line x1="480.90" y1="306.98" x2="486.10" y2="306.98" stroke="#444" stroke-width="0.9"/>
<line x1="482.20" y1="304.73" x2="484.80" y2="304.73" stroke="#444" stroke-width="0.8"/>
<line x1="482.20" y1="308.88" x2="484.80" y2="308.88" stroke="#444" stroke-width="0.8"/>
<circle cx="494.20" cy="272.38" r="1.75" fill="#1d1d58"/>
<circle cx="494.20" cy="293.14" r="1.75" fill="#1d1d58"/>
<circle cx="494.20" cy="300.75" r="1.75" fill="#1d1d58"/>
<line x1="494.20" y1="280.51" x2="494.20" y2="297.46" stroke="#444" stroke-width="0.8"/>
<line x1="491.60" y1="289.16" x2="496.80" y2="289.16" stroke="#444" stroke-width="0.9"/>
<line x1="492.90" y1="280.51" x2="495.50" y2="280.51" stroke="#444" stroke-width="0.8"/>
<line x1="492.90" y1="297.46" x2="495.50" y2="297.46" stroke="#444" stroke-width="0.8"/>
<circle cx="500.80" cy="280.51" r="1.75" fill="#20828a"/>
<circle cx="500.80" cy="284.84" r="1.75" fill="#20828a"/>
<circle cx="500.80" cy="286.22" r="1.75" fill="#20828a"/>
<line x1="500.80" y1="282.24" x2="500.80" y2="285.70" stroke="#444" stroke-width="0.8"/>
<line x1="498.20" y1="283.97" x2="503.40" y2="283.97" stroke="#444" stroke-width="0.9"/>
<line x1="499.50" y1="282.24" x2="502.10" y2="282.24" stroke="#444" stroke-width="0.8"/>
<line x1="499.50" y1="285.70" x2="502.10" y2="285.70" stroke="#444" stroke-width="0.8"/>
<circle cx="507.20" cy="284.84" r="1.75" fill="#a01722"/>
<circle cx="507.20" cy="296.08" r="1.75" fill="#a01722"/>
<circle cx="507.20" cy="297.81" r="1.75" fill="#a01722"/>
<line x1="507.20" y1="290.03" x2="507.20" y2="296.08" stroke="#444" stroke-width="0.8"/>
<line x1="504.60" y1="293.14" x2="509.80" y2="293.14" stroke="#444" stroke-width="0.9"/>
<line x1="505.90" y1="290.03" x2="508.50" y2="290.03" stroke="#444" stroke-width="0.8"/>
<line x1="505.90" y1="296.08" x2="508.50" y2="296.08" stroke="#444" stroke-width="0.8"/>
<circle cx="468.3" cy="226.0" r="1.8" fill="#1d1d58"/>
<text x="474.40" y="228.80" font-size="8.6" textLength="22.40" lengthAdjust="spacingAndGlyphs" font-style="italic">Asf1b</text>
<text x="497.20" y="225.60" font-size="6.0" textLength="10.00" lengthAdjust="spacingAndGlyphs" font-style="italic">+/+</text>
<circle cx="468.3" cy="239.8" r="1.8" fill="#20828a"/>
<text x="474.40" y="242.60" font-size="8.6" textLength="22.40" lengthAdjust="spacingAndGlyphs" font-style="italic">Asf1b</text>
<text x="497.20" y="239.40" font-size="6.0" textLength="10.00" lengthAdjust="spacingAndGlyphs" font-style="italic">+/–</text>
<circle cx="468.3" cy="254.2" r="1.8" fill="#a01722"/>
<text x="474.40" y="257.00" font-size="8.6" textLength="22.40" lengthAdjust="spacingAndGlyphs" font-style="italic">Asf1b</text>
<text x="497.20" y="253.80" font-size="6.0" textLength="10.00" lengthAdjust="spacingAndGlyphs" font-style="italic">–/–</text>
<text x="40.60" y="401.70" font-size="13.6" fill="#111" font-weight="bold">D</text>
<g transform="translate(104.60 430.90) scale(1.0)" fill="none" stroke="#4d4d4d" stroke-width="0.85" stroke-linecap="round" stroke-linejoin="round">
<ellipse cx="0" cy="0" rx="16.2" ry="9.5" fill="#fff"/>
<path d="M-12.6,-7.9 C-17,-8.8 -21.6,-6.6 -24.6,-3.4 C-26.8,-1.1 -28.7,1.2 -28.4,2.5 C-28.1,3.6 -26.9,3.8 -26.0,3.5 C-24.5,5.4 -19.5,5.6 -14.6,4.2 L-8,2 L-8,-6 Z" fill="#fff" stroke="none"/>
<path d="M-12.6,-7.9 C-17,-8.8 -21.6,-6.6 -24.6,-3.4 C-26.8,-1.1 -28.7,1.2 -28.4,2.5 C-28.1,3.6 -26.9,3.8 -26.0,3.5 C-24.5,5.4 -19.5,5.6 -14.6,4.2"/>
<path d="M-27.2,3.2 L-24.4,2.3"/>
<path d="M-16.5,-7.4 C-16,-10.4 -13.5,-11 -12.4,-9.6 C-11.7,-8.6 -12.3,-7.4 -13.4,-6.4" fill="#fff"/>
<circle cx="-24" cy="-2.3" r="0.85" fill="#222" stroke="none"/>
<path d="M16.1,1.6 L18.7,1.4 C18.1,0.6 17.9,-0.8 18.5,-1.3 L21,-1.7 M18.7,1.4 C19.8,1.8 20.8,2.6 21.8,3.3"/>
</g>
<line x1="104.2" y1="443.0" x2="104.2" y2="455.5" stroke="#555" stroke-width="1.15"/>
<path d="M102.10000000000001,454.8 L106.3,454.8 L104.2,459.0 Z" fill="#555"/>
<circle cx="104.9" cy="464.6" r="3.35" fill="none" stroke="#2a3a2f" stroke-width="1.3" stroke-dasharray="0.95 1.15"/>
<circle cx="104.9" cy="464.6" r="2.75" fill="#9fd1ad" stroke="#2a3a2f" stroke-width="0.8"/>
<circle cx="105.0" cy="464.70000000000005" r="1.0" fill="#dff0e4" stroke="#2a3a2f" stroke-width="0.35"/>
<circle cx="96.9" cy="470.0" r="3.35" fill="none" stroke="#2a3a2f" stroke-width="1.3" stroke-dasharray="0.95 1.15"/>
<circle cx="96.9" cy="470.0" r="2.75" fill="#9fd1ad" stroke="#2a3a2f" stroke-width="0.8"/>
<circle cx="97.0" cy="470.1" r="1.0" fill="#dff0e4" stroke="#2a3a2f" stroke-width="0.35"/>
<circle cx="105.8" cy="473.8" r="3.35" fill="none" stroke="#2a3a2f" stroke-width="1.3" stroke-dasharray="0.95 1.15"/>
<circle cx="105.8" cy="473.8" r="2.75" fill="#9fd1ad" stroke="#2a3a2f" stroke-width="0.8"/>
<circle cx="105.89999999999999" cy="473.90000000000003" r="1.0" fill="#dff0e4" stroke="#2a3a2f" stroke-width="0.35"/>
<path d="M84.1,483.5 V489.7 A20.400000000000006,1.2 0 0 0 124.9,489.7 V483.5" fill="#fff" stroke="#4d4d4d" stroke-width="0.85"/>
<ellipse cx="104.5" cy="483.5" rx="20.400000000000006" ry="1.6" fill="#fff" stroke="#4d4d4d" stroke-width="0.85"/>
<line x1="104.2" y1="493.3" x2="104.2" y2="507.3" stroke="#555" stroke-width="1.15"/>
<path d="M102.10000000000001,506.6 L106.3,506.6 L104.2,510.8 Z" fill="#555"/>
<polygon points="61.30,503.80 66.00,511.10 64.40,511.80 68.60,518.00 67.30,518.80 73.10,529.40 63.60,522.20 65.00,521.40 59.00,515.70 60.60,514.70 54.80,508.00" fill="#111"/>
<text x="69.60" y="513.20" font-size="8.6" textLength="7.70" lengthAdjust="spacingAndGlyphs">IR</text>
<g transform="translate(109.00 500.00) rotate(44.7)" stroke="#222" fill="none" stroke-linecap="butt">
<line x1="0" y1="-3" x2="0" y2="3" stroke-width="1.5"/>
<line x1="0" y1="0" x2="4.5" y2="0" stroke-width="1.2"/>
<line x1="4.5" y1="-4" x2="4.5" y2="4" stroke-width="1.4"/>
<rect x="5" y="-1.8" width="14.2" height="3.6" fill="#fff" stroke-width="0.95"/>
<rect x="19" y="-1" width="2" height="2" fill="#222" stroke-width="0.5"/>
<line x1="21" y1="0" x2="28" y2="0" stroke-width="0.9"/>
</g>
<circle cx="129.40" cy="498.60" r="3.0" fill="#fdefc4" stroke="#f3d088" stroke-width="0.75"/>
<circle cx="134.40" cy="499.20" r="3.0" fill="#fdefc4" stroke="#f3d088" stroke-width="0.75"/>
<circle cx="126.20" cy="503.80" r="3.0" fill="#fdefc4" stroke="#f3d088" stroke-width="0.75"/>
<circle cx="131.60" cy="504.20" r="3.0" fill="#fdefc4" stroke="#f3d088" stroke-width="0.75"/>
<circle cx="136.80" cy="504.80" r="3.0" fill="#fdefc4" stroke="#f3d088" stroke-width="0.75"/>
<circle cx="129.00" cy="509.20" r="3.0" fill="#fdefc4" stroke="#f3d088" stroke-width="0.75"/>
<circle cx="134.20" cy="509.80" r="3.0" fill="#fdefc4" stroke="#f3d088" stroke-width="0.75"/>
<circle cx="126.10" cy="499.20" r="2.7" fill="#1aa33a"/>
<g transform="translate(105.80 523.50) scale(1.0)" fill="none" stroke="#4d4d4d" stroke-width="0.85" stroke-linecap="round" stroke-linejoin="round">
<ellipse cx="0" cy="0" rx="16.2" ry="9.5" fill="#fff"/>
<path d="M-12.6,-7.9 C-17,-8.8 -21.6,-6.6 -24.6,-3.4 C-26.8,-1.1 -28.7,1.2 -28.4,2.5 C-28.1,3.6 -26.9,3.8 -26.0,3.5 C-24.5,5.4 -19.5,5.6 -14.6,4.2 L-8,2 L-8,-6 Z" fill="#fff" stroke="none"/>
<path d="M-12.6,-7.9 C-17,-8.8 -21.6,-6.6 -24.6,-3.4 C-26.8,-1.1 -28.7,1.2 -28.4,2.5 C-28.1,3.6 -26.9,3.8 -26.0,3.5 C-24.5,5.4 -19.5,5.6 -14.6,4.2"/>
<path d="M-27.2,3.2 L-24.4,2.3"/>
<path d="M-16.5,-7.4 C-16,-10.4 -13.5,-11 -12.4,-9.6 C-11.7,-8.6 -12.3,-7.4 -13.4,-6.4" fill="#fff"/>
<circle cx="-24" cy="-2.3" r="0.85" fill="#222" stroke="none"/>
<path d="M16.1,1.6 L18.7,1.4 C18.1,0.6 17.9,-0.8 18.5,-1.3 L21,-1.7 M18.7,1.4 C19.8,1.8 20.8,2.6 21.8,3.3"/>
</g>
<line x1="104.1" y1="536.3" x2="104.1" y2="548.7" stroke="#555" stroke-width="1.15"/>
<path d="M102.0,548.0 L106.19999999999999,548.0 L104.1,552.2 Z" fill="#555"/>
<text x="163.40" y="426.60" font-size="9.15" textLength="24.60" lengthAdjust="spacingAndGlyphs" font-style="italic">Asf1b</text>
<text x="188.40" y="423.30" font-size="6.2" textLength="10.10" lengthAdjust="spacingAndGlyphs" font-style="italic">+/+</text>
<text x="201.80" y="426.60" font-size="9.15" textLength="8.60" lengthAdjust="spacingAndGlyphs">or</text>
<text x="145.10" y="437.30" font-size="9.15" textLength="24.60" lengthAdjust="spacingAndGlyphs" font-style="italic">Asf1b</text>
<text x="170.20" y="434.00" font-size="6.2" textLength="10.90" lengthAdjust="spacingAndGlyphs" font-style="italic">+/–</text>
<text x="183.50" y="437.30" font-size="9.15" textLength="8.60" lengthAdjust="spacingAndGlyphs">or</text>
<text x="194.80" y="437.30" font-size="9.15" textLength="24.70" lengthAdjust="spacingAndGlyphs" font-style="italic">Asf1b</text>
<text x="220.40" y="434.00" font-size="6.2" textLength="9.20" lengthAdjust="spacingAndGlyphs" font-style="italic">–/–</text>
<text x="145.00" y="466.50" font-size="9.15" textLength="84.20" lengthAdjust="spacingAndGlyphs">Lin- BM transduced</text>
<text x="146.70" y="477.00" font-size="9.15" textLength="81.40" lengthAdjust="spacingAndGlyphs">with MLL-ENL GFP</text>
<text x="168.90" y="498.20" font-size="9.15" textLength="43.30" lengthAdjust="spacingAndGlyphs">FACS and</text>
<text x="157.30" y="509.20" font-size="9.15" textLength="66.60" lengthAdjust="spacingAndGlyphs">transplanted to</text>
<text x="152.60" y="520.90" font-size="9.15" textLength="75.50" lengthAdjust="spacingAndGlyphs">lethally irradiated</text>
<text x="169.60" y="531.40" font-size="9.15" textLength="42.00" lengthAdjust="spacingAndGlyphs">recipients</text>
<text x="83.20" y="568.10" font-size="9.15" textLength="42.10" lengthAdjust="spacingAndGlyphs">Treat with</text>
<text x="66.70" y="579.10" font-size="9.15" textLength="74.00" lengthAdjust="spacingAndGlyphs">vehicle/IL-1β and</text>
<text x="69.90" y="589.90" font-size="9.15" textLength="67.60" lengthAdjust="spacingAndGlyphs">monitor survival</text>
<text x="265.00" y="369.50" font-size="13.4" fill="#111" font-weight="bold">E</text>
<line x1="315.50" y1="373.80" x2="315.50" y2="482.20" stroke="#242424" stroke-width="1.45"/>
<line x1="314.90" y1="481.50" x2="507.00" y2="481.50" stroke="#242424" stroke-width="1.45"/>
<line x1="312.20" y1="481.50" x2="315.50" y2="481.50" stroke="#242424" stroke-width="1.1"/>
<text x="308.70" y="484.70" font-size="9.1" text-anchor="end">0</text>
<line x1="312.20" y1="460.50" x2="315.50" y2="460.50" stroke="#242424" stroke-width="1.1"/>
<text x="308.70" y="463.70" font-size="9.1" text-anchor="end">20</text>
<line x1="312.20" y1="439.50" x2="315.50" y2="439.50" stroke="#242424" stroke-width="1.1"/>
<text x="308.70" y="442.70" font-size="9.1" text-anchor="end">40</text>
<line x1="312.20" y1="418.50" x2="315.50" y2="418.50" stroke="#242424" stroke-width="1.1"/>
<text x="308.70" y="421.70" font-size="9.1" text-anchor="end">60</text>
<line x1="312.20" y1="397.50" x2="315.50" y2="397.50" stroke="#242424" stroke-width="1.1"/>
<text x="308.70" y="400.70" font-size="9.1" text-anchor="end">80</text>
<line x1="312.20" y1="376.50" x2="315.50" y2="376.50" stroke="#242424" stroke-width="1.1"/>
<text x="308.70" y="379.70" font-size="9.1" text-anchor="end">100</text>
<line x1="315.40" y1="481.50" x2="315.40" y2="485.00" stroke="#242424" stroke-width="1.1"/>
<text x="315.40" y="496.70" font-size="9.1" text-anchor="middle">0</text>
<line x1="357.95" y1="481.50" x2="357.95" y2="485.00" stroke="#242424" stroke-width="1.1"/>
<text x="357.95" y="496.70" font-size="9.1" text-anchor="middle">20</text>
<line x1="400.50" y1="481.50" x2="400.50" y2="485.00" stroke="#242424" stroke-width="1.1"/>
<text x="400.50" y="496.70" font-size="9.1" text-anchor="middle">40</text>
<line x1="443.05" y1="481.50" x2="443.05" y2="485.00" stroke="#242424" stroke-width="1.1"/>
<text x="443.05" y="496.70" font-size="9.1" text-anchor="middle">60</text>
<line x1="485.60" y1="481.50" x2="485.60" y2="485.00" stroke="#242424" stroke-width="1.1"/>
<text x="485.60" y="496.70" font-size="9.1" text-anchor="middle">80</text>
<text x="371.70" y="512.60" font-size="10.6" textLength="80.90" lengthAdjust="spacingAndGlyphs">Days post transplant</text>
<text x="286.00" y="427.40" font-size="10.6" text-anchor="middle" textLength="62.20" lengthAdjust="spacingAndGlyphs" transform="rotate(-90 286.00 427.40)">Percent survival</text>
<path d="M315.50,376.50 H415.40 V388.15 H430.40 V411.46 H443.30 V423.12 H447.70 V458.19 H449.60 V469.85 H460.60 V481.50" fill="none" stroke="#464c7c" stroke-width="1.2" stroke-dasharray="4 2"/>
<path d="M315.50,376.50 H443.30 V388.15 H447.70 V399.81 H449.60 V423.12 H458.70 V434.88 H466.30 V446.54 H475.00 V469.85 H494.40 V481.50" fill="none" stroke="#8e3c40" stroke-width="1.2" stroke-dasharray="4 2"/>
<path d="M315.50,376.50 H439.40 V387.00 H447.20 V397.50 H449.60 V418.50 H460.60 V439.50 H465.00 V460.50 H474.00 V471.00 H494.40 V481.50" fill="none" stroke="#4a9896" stroke-width="1.2" stroke-dasharray="4 2"/>
<line x1="341.40" y1="456.00" x2="352.20" y2="456.00" stroke="#464c7c" stroke-width="1.3" stroke-dasharray="4.4 1.9"/>
<line x1="341.40" y1="465.20" x2="352.20" y2="465.20" stroke="#8e3c40" stroke-width="1.3" stroke-dasharray="4.4 1.9"/>
<line x1="341.40" y1="474.60" x2="352.20" y2="474.60" stroke="#4a9896" stroke-width="1.3" stroke-dasharray="4.4 1.9"/>
<text x="355.60" y="458.60" font-size="8.6" textLength="23.80" lengthAdjust="spacingAndGlyphs" font-style="italic">Asf1b</text>
<text x="380.50" y="455.20" font-size="6.2" textLength="11.70" lengthAdjust="spacingAndGlyphs" font-style="italic">+/+</text>
<text x="394.20" y="458.60" font-size="8.6" textLength="28.30" lengthAdjust="spacingAndGlyphs">(n = 9)</text>
<text x="355.60" y="468.00" font-size="8.6" textLength="23.80" lengthAdjust="spacingAndGlyphs" font-style="italic">Asf1b</text>
<text x="380.50" y="464.60" font-size="6.2" textLength="9.20" lengthAdjust="spacingAndGlyphs" font-style="italic">–/–</text>
<text x="392.10" y="468.00" font-size="8.6" textLength="27.50" lengthAdjust="spacingAndGlyphs">(n = 9)</text>
<text x="355.60" y="476.80" font-size="8.6" textLength="23.80" lengthAdjust="spacingAndGlyphs" font-style="italic">Asf1b</text>
<text x="380.50" y="473.40" font-size="6.2" textLength="9.90" lengthAdjust="spacingAndGlyphs" font-style="italic">+/–</text>
<text x="394.00" y="476.80" font-size="8.6" textLength="32.40" lengthAdjust="spacingAndGlyphs">(n = 10)</text>
<line x1="327.70" y1="454.70" x2="327.70" y2="472.90" stroke="#333" stroke-width="1.2"/>
<line x1="334.90" y1="455.30" x2="334.90" y2="464.60" stroke="#666" stroke-width="1.5"/>
<path d="M323.50,460.15 L323.50,462.65 M324.58,460.77 L322.42,462.02 M324.58,462.02 L322.42,460.77 " stroke="#222" stroke-width="0.75" fill="none"/>
<circle cx="323.50" cy="461.40" r="0.69" fill="#222"/>
<path d="M323.50,464.45 L323.50,466.95 M324.58,465.07 L322.42,466.32 M324.58,466.32 L322.42,465.07 " stroke="#222" stroke-width="0.75" fill="none"/>
<circle cx="323.50" cy="465.70" r="0.69" fill="#222"/>
<path d="M331.80,456.35 L331.80,458.85 M332.88,456.98 L330.72,458.23 M332.88,458.23 L330.72,456.98 " stroke="#222" stroke-width="0.75" fill="none"/>
<circle cx="331.80" cy="457.60" r="0.69" fill="#222"/>
<path d="M331.80,460.85 L331.80,463.35 M332.88,461.48 L330.72,462.73 M332.88,462.73 L330.72,461.48 " stroke="#222" stroke-width="0.75" fill="none"/>
<circle cx="331.80" cy="462.10" r="0.69" fill="#222"/>
<line x1="315.60" y1="522.30" x2="315.60" y2="630.30" stroke="#242424" stroke-width="1.45"/>
<line x1="315.00" y1="629.60" x2="510.00" y2="629.60" stroke="#242424" stroke-width="1.45"/>
<line x1="312.20" y1="629.60" x2="315.60" y2="629.60" stroke="#242424" stroke-width="1.1"/>
<text x="308.40" y="632.70" font-size="9.1" text-anchor="end">0</text>
<line x1="312.20" y1="608.45" x2="315.60" y2="608.45" stroke="#242424" stroke-width="1.1"/>
<text x="308.40" y="611.55" font-size="9.1" text-anchor="end">20</text>
<line x1="312.20" y1="587.30" x2="315.60" y2="587.30" stroke="#242424" stroke-width="1.1"/>
<text x="308.40" y="590.40" font-size="9.1" text-anchor="end">40</text>
<line x1="312.20" y1="566.15" x2="315.60" y2="566.15" stroke="#242424" stroke-width="1.1"/>
<text x="308.40" y="569.25" font-size="9.1" text-anchor="end">60</text>
<line x1="312.20" y1="545.00" x2="315.60" y2="545.00" stroke="#242424" stroke-width="1.1"/>
<text x="308.40" y="548.10" font-size="9.1" text-anchor="end">80</text>
<line x1="312.20" y1="523.85" x2="315.60" y2="523.85" stroke="#242424" stroke-width="1.1"/>
<text x="308.40" y="526.95" font-size="9.1" text-anchor="end">100</text>
<line x1="315.40" y1="629.60" x2="315.40" y2="633.20" stroke="#242424" stroke-width="1.1"/>
<text x="315.40" y="644.10" font-size="9.1" text-anchor="middle">0</text>
<line x1="363.30" y1="629.60" x2="363.30" y2="633.20" stroke="#242424" stroke-width="1.1"/>
<text x="363.30" y="644.10" font-size="9.1" text-anchor="middle">20</text>
<line x1="411.20" y1="629.60" x2="411.20" y2="633.20" stroke="#242424" stroke-width="1.1"/>
<text x="411.20" y="644.10" font-size="9.1" text-anchor="middle">40</text>
<line x1="459.10" y1="629.60" x2="459.10" y2="633.20" stroke="#242424" stroke-width="1.1"/>
<text x="459.10" y="644.10" font-size="9.1" text-anchor="middle">60</text>
<line x1="507.00" y1="629.60" x2="507.00" y2="633.20" stroke="#242424" stroke-width="1.1"/>
<text x="507.00" y="644.10" font-size="9.1" text-anchor="middle">80</text>
<text x="373.00" y="659.60" font-size="10.6" textLength="81.50" lengthAdjust="spacingAndGlyphs">Days post transplant</text>
<text x="286.00" y="575.00" font-size="10.6" text-anchor="middle" textLength="62.00" lengthAdjust="spacingAndGlyphs" transform="rotate(-90 286.00 575.00)">Percent survival</text>
<path d="M315.60,523.85 H411.30 V547.33 H417.90 V559.06 H420.60 V570.80 H427.70 V582.65 H444.40 V594.39 H451.90 V606.12 H458.70 V617.86 H461.20 V629.60" fill="none" stroke="#3f4882" stroke-width="1.2"/>
<path d="M315.60,523.85 H442.40 V535.59 H449.20 V547.33 H454.00 V559.06 H463.50 V570.80 H466.20 V582.65 H471.20 V594.39 H473.30 V606.12 H475.10 V629.60" fill="none" stroke="#9b3546" stroke-width="1.2"/>
<line x1="435.40" y1="575.80" x2="457.20" y2="575.80" stroke="#444" stroke-width="1.05"/>
<path d="M444.50,570.85 L444.50,573.35 M445.58,571.48 L443.42,572.73 M445.58,572.73 L443.42,571.48 " stroke="#222" stroke-width="0.75" fill="none"/>
<circle cx="444.50" cy="572.10" r="0.69" fill="#222"/>
<path d="M448.80,570.85 L448.80,573.35 M449.88,571.48 L447.72,572.73 M449.88,572.73 L447.72,571.48 " stroke="#222" stroke-width="0.75" fill="none"/>
<circle cx="448.80" cy="572.10" r="0.69" fill="#222"/>
<line x1="319.20" y1="609.30" x2="329.30" y2="609.30" stroke="#3f4882" stroke-width="1.2"/>
<line x1="319.20" y1="619.20" x2="329.30" y2="619.20" stroke="#9b3546" stroke-width="1.2"/>
<text x="332.00" y="612.40" font-size="8.6" textLength="24.20" lengthAdjust="spacingAndGlyphs" font-style="italic">Asf1b</text>
<text x="357.20" y="609.00" font-size="6.2" textLength="9.90" lengthAdjust="spacingAndGlyphs" font-style="italic">+/+</text>
<text x="370.50" y="612.40" font-size="8.6" textLength="52.00" lengthAdjust="spacingAndGlyphs">IL-1β (n = 9)</text>
<text x="332.00" y="623.30" font-size="8.6" textLength="24.20" lengthAdjust="spacingAndGlyphs" font-style="italic">Asf1b</text>
<text x="357.20" y="619.90" font-size="6.2" textLength="9.30" lengthAdjust="spacingAndGlyphs" font-style="italic">–/–</text>
<text x="368.80" y="623.30" font-size="8.6" textLength="50.90" lengthAdjust="spacingAndGlyphs">IL-1β (n = 9)</text>
<rect x="0.5" y="0.5" width="519" height="670" fill="none" stroke="#3c3c3c" stroke-width="1.1"/>
</svg>
</body></html>
